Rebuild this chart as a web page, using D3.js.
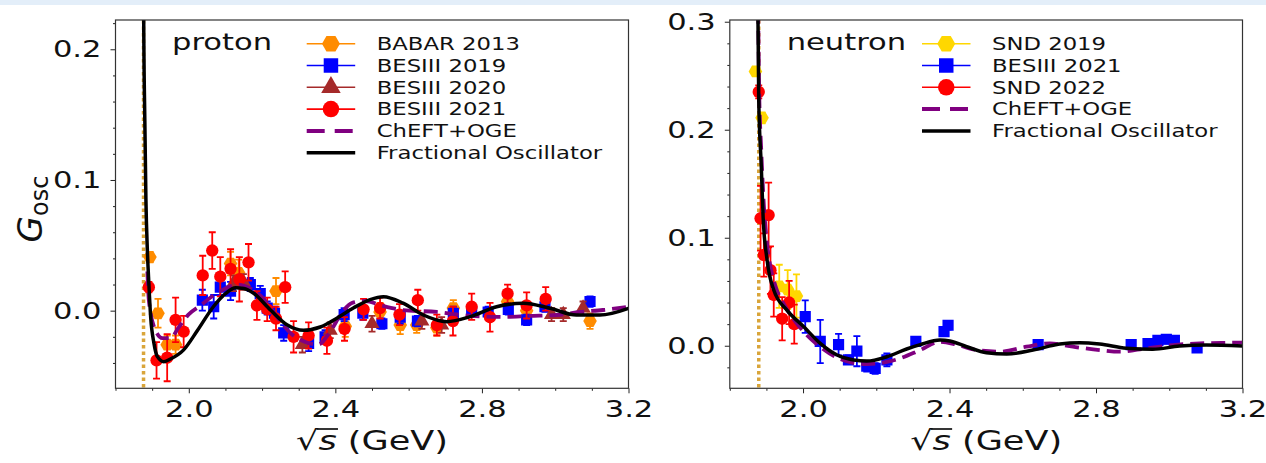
<!DOCTYPE html>
<html>
<head>
<meta charset="utf-8">
<script src="https://cdn.jsdelivr.net/npm/d3@7"></script>
<style>
  html, body { margin: 0; padding: 0; background: #fff; }
  svg { display: block; font-family: "DejaVu Sans", sans-serif; }
</style>
</head>
<body>
<svg id="fig" width="1266" height="463"></svg>
<script>
// ---- proton panel: [sqrt(s) GeV, G_osc, error] ----
const babar2013 = [
  [1.894, 0.041, 0.004], [1.916, -0.002, 0.011], [1.941, -0.026, 0.007], [1.964, -0.026, 0.007],
  [2.114, 0.036, 0.009], [2.136, 0.029, 0.010], [2.238, 0.015, 0.010], [2.427, -0.012, 0.008],
  [2.522, -0.001, 0.007], [2.577, -0.011, 0.007], [2.622, -0.011, 0.006], [2.677, -0.013, 0.006],
  [2.722, 0.002, 0.006], [2.870, 0.007, 0.006], [2.922, 0.000, 0.006], [3.095, -0.008, 0.006]
];
const besiii2019 = [
  [2.037, 0.008, 0.008], [2.068, 0.003, 0.009], [2.086, 0.018, 0.006], [2.114, 0.015, 0.007],
  [2.168, 0.020, 0.005], [2.195, 0.013, 0.006], [2.214, 0.002, 0.005], [2.234, -0.002, 0.005],
  [2.259, -0.017, 0.006], [2.327, -0.025, 0.006], [2.372, -0.020, 0.005], [2.424, -0.003, 0.005],
  [2.475, -0.002, 0.005], [2.527, -0.010, 0.004], [2.577, -0.005, 0.005], [2.624, -0.008, 0.004],
  [2.722, -0.002, 0.005], [2.772, -0.001, 0.004], [2.817, -0.001, 0.004], [2.872, 0.001, 0.004],
  [2.922, -0.007, 0.004], [2.972, 0.003, 0.004], [3.095, 0.007, 0.004]
];
const besiii2020 = [
  [2.122, 0.021, 0.006], [2.149, 0.022, 0.006], [2.310, -0.026, 0.006], [2.386, -0.015, 0.006],
  [2.500, -0.010, 0.006], [2.636, -0.008, 0.006], [2.690, -0.011, 0.006], [2.990, -0.003, 0.005],
  [3.022, -0.003, 0.005], [3.076, 0.002, 0.005]
];
const besiii2021 = [
  [1.891, 0.018, 0.004], [1.912, -0.038, 0.014], [1.941, -0.036, 0.018], [1.964, -0.007, 0.017],
  [1.986, -0.016, 0.012], [2.038, 0.027, 0.015], [2.064, 0.046, 0.014], [2.086, 0.026, 0.015],
  [2.114, 0.032, 0.015], [2.138, 0.024, 0.017], [2.163, 0.037, 0.014], [2.186, 0.004, 0.011],
  [2.214, 0.001, 0.009], [2.238, -0.006, 0.009], [2.263, 0.018, 0.012], [2.286, -0.020, 0.012],
  [2.327, -0.019, 0.010], [2.377, -0.023, 0.010], [2.425, -0.014, 0.009], [2.477, 0.001, 0.008],
  [2.522, 0.002, 0.008], [2.575, -0.003, 0.008], [2.625, 0.008, 0.008], [2.677, -0.011, 0.008],
  [2.721, -0.008, 0.011], [2.772, 0.003, 0.010], [2.822, -0.005, 0.011], [2.870, 0.013, 0.007],
  [2.922, 0.004, 0.010], [2.974, 0.009, 0.009]
];
// model curves: [sqrt(s), G_osc]
const protonFO = [
  [1.8752, 0.40], [1.877, 0.222], [1.880, 0.146], [1.883, 0.085], [1.887, 0.046], [1.891, 0.021],
  [1.896, -0.005], [1.905, -0.025], [1.914, -0.035], [1.932, -0.039], [1.950, -0.037], [1.986, -0.030],
  [2.024, -0.015], [2.067, 0.003], [2.100, 0.013], [2.128, 0.0175], [2.150, 0.017], [2.176, 0.0135],
  [2.223, 0.0005], [2.269, -0.011], [2.313, -0.015], [2.359, -0.0125], [2.405, -0.0056], [2.449, 0.002],
  [2.495, 0.0085], [2.531, 0.0107], [2.585, 0.0057], [2.640, -0.0033], [2.704, -0.0084], [2.768, -0.0046],
  [2.840, 0.003], [2.913, 0.0057], [2.986, 0.0018], [3.058, -0.0033], [3.122, -0.0033], [3.200, 0.0018]
];
const protonChEFT = [
  [1.887, 0.030], [1.891, 0.008], [1.909, -0.015], [1.928, -0.021], [1.950, -0.021], [1.972, -0.013],
  [1.999, -0.003], [2.032, 0.004], [2.064, 0.011], [2.100, 0.017], [2.133, 0.020], [2.168, 0.017],
  [2.201, 0.010], [2.236, -0.003], [2.277, -0.017], [2.318, -0.024], [2.353, -0.026], [2.386, -0.016],
  [2.419, -0.001], [2.446, 0.006], [2.481, 0.0074], [2.530, 0.0036], [2.585, 0.0005], [2.677, -0.001],
  [2.768, -0.004], [2.857, -0.0048], [2.931, -0.004], [3.004, -0.0033], [3.067, -0.001], [3.130, 0.0005],
  [3.200, 0.003]
];

// ---- neutron panel ----
const snd2019 = [
  [1.870, 0.254, 0.004], [1.888, 0.211, 0.005], [1.935, 0.055, 0.020], [1.958, 0.052, 0.018],
  [1.982, 0.046, 0.020]
];
const besiii2021n = [
  [2.006, 0.027, 0.015], [2.047, 0.004, 0.020], [2.097, 0.001, 0.010], [2.124, -0.013, 0.004],
  [2.147, -0.005, 0.014], [2.174, -0.019, 0.005], [2.197, -0.021, 0.005], [2.229, -0.013, 0.006],
  [2.308, 0.004, 0.004], [2.385, 0.013, 0.004], [2.396, 0.019, 0.004], [2.642, 0.001, 0.003],
  [2.896, 0.001, 0.003], [2.942, 0.002, 0.003], [2.969, 0.005, 0.003], [2.992, 0.006, 0.004],
  [3.014, 0.005, 0.003], [3.076, -0.002, 0.003]
];
const snd2022 = [
  [1.879, 0.235, 0.006], [1.884, 0.118, 0.030], [1.906, 0.121, 0.030], [1.893, 0.084, 0.020],
  [1.911, 0.070, 0.022], [1.920, 0.047, 0.020], [1.943, 0.025, 0.020], [1.962, 0.040, 0.020],
  [1.976, 0.020, 0.018]
];
const neutronFO = [
  [1.8755, 0.40], [1.877, 0.300], [1.879, 0.2275], [1.886, 0.166], [1.891, 0.119], [1.902, 0.079],
  [1.920, 0.0516], [1.956, 0.033], [2.002, 0.0176], [2.047, 0.0022], [2.093, -0.0086], [2.138, -0.0132],
  [2.174, -0.0142], [2.229, -0.0102], [2.283, -0.003], [2.320, 0.001], [2.374, 0.0053], [2.401, 0.0044],
  [2.447, -0.0009], [2.501, -0.0065], [2.556, -0.0077], [2.628, -0.004], [2.701, 0.0016], [2.756, 0.0028],
  [2.810, 0.0016], [2.883, -0.0024], [2.955, -0.0033], [3.028, -0.0003], [3.101, 0.0006], [3.200, -0.0003]
];
const neutronChEFT = [
  [1.8765, 0.35], [1.880, 0.24], [1.886, 0.18], [1.893, 0.13], [1.900, 0.10], [1.910, 0.075],
  [1.925, 0.055], [1.950, 0.037], [1.980, 0.022], [2.010, 0.010], [2.047, -0.001], [2.093, -0.011],
  [2.140, -0.016], [2.174, -0.017], [2.229, -0.015], [2.265, -0.0117], [2.320, -0.004], [2.374, 0.0037],
  [2.420, 0.001], [2.474, -0.004], [2.538, -0.0055], [2.610, -0.0009], [2.674, 0.0022], [2.737, -0.0009],
  [2.810, -0.004], [2.865, -0.0055], [2.937, -0.0024], [3.010, 0.0006], [3.083, 0.0022], [3.173, 0.0028],
  [3.200, 0.003]
];

// thresholds (2 m_p, 2 m_n) and tick values
const thresholdP = 1.8765, thresholdN = 1.8791;
const xMajor = [2.0, 2.4, 2.8, 3.2];
const xMinor = d3.range(18, 33).map(d => d / 10).filter(d => !xMajor.includes(d));
const yMajorP = [0.0, 0.1, 0.2];
const yMajorN = [0.0, 0.1, 0.2, 0.3];

// the source image has sideways-stretched text
const SX = 1.3;
const fig = d3.select("#fig");
fig.append("rect").attr("width", 1266).attr("height", 5).attr("fill", "#e3eef9");

// flat-topped hexagon like matplotlib 'H'
const symbolHex = {
  draw(ctx, size) {
    let r = Math.sqrt(size / 2.598);
    for (let i = 0; i < 6; i++) {
      let a = i * Math.PI / 3;
      if (i) ctx.lineTo(r * Math.cos(a), r * Math.sin(a));
      else ctx.moveTo(r * Math.cos(a), r * Math.sin(a));
    }
    ctx.closePath();
  }
};

function stretchedText(sel, x, y, txt, size, anchor) {
  return sel.append("text")
    .attr("transform", `translate(${x},${y}) scale(${SX},1)`)
    .attr("font-size", size)
    .attr("text-anchor", anchor || "start")
    .attr("fill", "#111")
    .text(txt);
}

function panel(p) {
  let x = d3.scaleLinear().domain([1.8, 3.2]).range(p.xr);
  let y = d3.scaleLinear().domain(p.yd).range([388.3, 20]);
  let g = fig.append("g");
  let w = p.xr[1] - p.xr[0];

  g.append("clipPath").attr("id", "clip-" + p.name)
    .append("rect").attr("x", p.xr[0]).attr("y", 20).attr("width", w).attr("height", 368.3);
  let plot = g.append("g").attr("clip-path", `url(#clip-${p.name})`);

  // threshold line
  plot.append("line")
    .attr("x1", x(p.threshold)).attr("x2", x(p.threshold))
    .attr("y1", 20).attr("y2", 388.3)
    .attr("stroke", "#d9a53a").attr("stroke-width", 3.5).attr("stroke-dasharray", "3.5,3");

  // data with error bars
  p.series.forEach(s => {
    let sg = plot.append("g");
    sg.selectAll("path.err").data(s.data).join("path")
      .attr("d", d => {
        let px = x(d[0]), y1 = y(d[1] + d[2]), y2 = y(d[1] - d[2]);
        return `M${px - 3.5},${y1}H${px + 3.5}M${px},${y1}V${y2}M${px - 3.5},${y2}H${px + 3.5}`;
      })
      .attr("fill", "none").attr("stroke", s.color).attr("stroke-width", 1.8);
    sg.selectAll("path.mk").data(s.data).join("path")
      .attr("transform", d => `translate(${x(d[0])},${y(d[1])})`)
      .attr("d", d3.symbol().type(s.type).size(s.size))
      .attr("fill", s.color);
  });

  let line = d3.line().x(d => x(d[0])).y(d => y(d[1])).curve(d3.curveMonotoneX);
  plot.append("path").datum(p.chEFT).attr("d", line)
    .attr("fill", "none").attr("stroke", "#800080").attr("stroke-width", 3.8)
    .attr("stroke-dasharray", "14,7");
  plot.append("path").datum(p.fo).attr("d", line)
    .attr("fill", "none").attr("stroke", "#000").attr("stroke-width", 3.5);

  // axes
  let styleAxis = (a) => {
    a.select(".domain").remove();
    a.attr("font-size", null).attr("font-family", null);
    a.selectAll("line").attr("stroke", "#222");
  };
  g.append("g").attr("transform", "translate(0,388.3)")
    .call(d3.axisBottom(x).tickValues(xMajor).tickFormat(d3.format(".1f")).tickSize(5).tickPadding(7.5))
    .call(styleAxis)
    .selectAll("text").attr("font-size", 23.5).attr("fill", "#111")
    .attr("transform", `scale(${SX},1)`);
  g.append("g").attr("transform", "translate(0,388.3)")
    .call(d3.axisBottom(x).tickValues(xMinor).tickFormat("").tickSize(2.5))
    .call(styleAxis);
  g.append("g").attr("transform", `translate(${p.xr[0]},0)`)
    .call(d3.axisLeft(y).tickValues(p.yMajor).tickFormat(d3.format(".1f")).tickSize(5).tickPadding(5.8))
    .call(styleAxis)
    .selectAll("text").attr("font-size", 23.5).attr("fill", "#111")
    .attr("transform", `scale(${SX},1)`);
  let yMinor = d3.range(-3, 16).map(d => +(d * 0.02).toFixed(2))
    .filter(d => d >= p.yd[0] && d <= p.yd[1] && !p.yMajor.includes(d));
  g.append("g").attr("transform", `translate(${p.xr[0]},0)`)
    .call(d3.axisLeft(y).tickValues(yMinor).tickFormat("").tickSize(2.5))
    .call(styleAxis);

  g.append("rect").attr("x", p.xr[0]).attr("y", 20).attr("width", w).attr("height", 368.3)
    .attr("fill", "none").attr("stroke", "#333").attr("stroke-width", 1.2);

  // panel name
  stretchedText(g, p.nameX, 50, p.name, 23.5);

  // legend
  p.legend.forEach((e, i) => {
    let ry = 43.7 + i * 21.8;
    let lx0 = p.legX, lx1 = p.legX + 48.5;
    if (e.kind === "marker") {
      g.append("line").attr("x1", lx0).attr("x2", lx1).attr("y1", ry).attr("y2", ry)
        .attr("stroke", e.color).attr("stroke-width", 1.6);
      g.append("path").attr("transform", `translate(${(lx0 + lx1) / 2},${ry})`)
        .attr("d", d3.symbol().type(e.type).size(e.size)).attr("fill", e.color);
    } else {
      g.append("line").attr("x1", lx0).attr("x2", lx1).attr("y1", ry).attr("y2", ry)
        .attr("stroke", e.color).attr("stroke-width", e.kind === "dash" ? 4 : 3.5)
        .attr("stroke-dasharray", e.kind === "dash" ? "18,10" : null);
    }
    stretchedText(g, p.legX + 70, ry + 6.3, e.label, 17.5);
  });

  // x axis title: sqrt(s) (GeV)
  let cx = (p.xr[0] + p.xr[1]) / 2;
  let tg = g.append("g").attr("transform", `translate(${cx},450) scale(${SX},1)`);
  let t = tg.append("text").attr("font-size", 27).attr("text-anchor", "middle").attr("fill", "#111");
  t.append("tspan").text("\u221A");
  t.append("tspan").attr("font-style", "italic").text("s");
  t.append("tspan").text(" (GeV)");
  let node = t.node();
  let r0 = node.getExtentOfChar(0), r1 = node.getExtentOfChar(1);
  tg.append("line")
    .attr("x1", r0.x + r0.width - 1.5).attr("x2", r1.x + r1.width + 1)
    .attr("y1", -21).attr("y2", -21)
    .attr("stroke", "#111").attr("stroke-width", 1.7);

  return {x, y};
}

panel({
  name: "proton", nameX: 172, xr: [115.5, 628.5], yd: [-0.0594, 0.2224], yMajor: yMajorP,
  threshold: thresholdP, fo: protonFO, chEFT: protonChEFT,
  series: [
    {data: babar2013, color: "#ff8c00", type: symbolHex, size: 120},
    {data: besiii2019, color: "#0000ff", type: d3.symbolSquare, size: 125},
    {data: besiii2020, color: "#a52a2a", type: d3.symbolTriangle, size: 100},
    {data: besiii2021, color: "#ff0000", type: d3.symbolCircle, size: 120}
  ],
  legX: 306.7,
  legend: [
    {label: "BABAR 2013", kind: "marker", color: "#ff8c00", type: symbolHex, size: 210},
    {label: "BESIII 2019", kind: "marker", color: "#0000ff", type: d3.symbolSquare, size: 210},
    {label: "BESIII 2020", kind: "marker", color: "#a52a2a", type: d3.symbolTriangle, size: 165},
    {label: "BESIII 2021", kind: "marker", color: "#ff0000", type: d3.symbolCircle, size: 215},
    {label: "ChEFT+OGE", kind: "dash", color: "#800080"},
    {label: "Fractional Oscillator", kind: "line", color: "#000"}
  ]
});

panel({
  name: "neutron", nameX: 786.7, xr: [729.8, 1242.5], yd: [-0.0394, 0.3016], yMajor: yMajorN,
  threshold: thresholdN, fo: neutronFO, chEFT: neutronChEFT,
  series: [
    {data: snd2019, color: "#ffd700", type: symbolHex, size: 120},
    {data: besiii2021n, color: "#0000ff", type: d3.symbolSquare, size: 125},
    {data: snd2022, color: "#ff0000", type: d3.symbolCircle, size: 120}
  ],
  legX: 922,
  legend: [
    {label: "SND 2019", kind: "marker", color: "#ffd700", type: symbolHex, size: 210},
    {label: "BESIII 2021", kind: "marker", color: "#0000ff", type: d3.symbolSquare, size: 210},
    {label: "SND 2022", kind: "marker", color: "#ff0000", type: d3.symbolCircle, size: 215},
    {label: "ChEFT+OGE", kind: "dash", color: "#800080"},
    {label: "Fractional Oscillator", kind: "line", color: "#000"}
  ]
});

// y axis title G_osc
let yl = fig.append("g").attr("transform", "translate(42,209) rotate(-90)")
  .append("text").attr("font-size", 34).attr("text-anchor", "middle").attr("fill", "#111");
yl.append("tspan").attr("font-style", "italic").text("G");
yl.append("tspan").attr("font-size", 24).attr("dy", 6).text("osc");
</script>
</body>
</html>
